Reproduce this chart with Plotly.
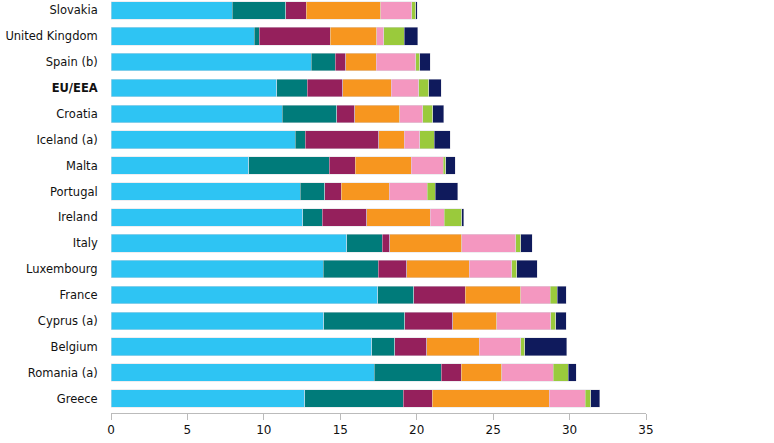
import plotly.graph_objects as go

countries = ["Greece", "Romania (a)", "Belgium", "Cyprus (a)", "France", "Luxembourg", "Italy",
             "Ireland", "Portugal", "Malta", "Iceland (a)", "Croatia", "<b>EU/EEA</b>",
             "Spain (b)", "United Kingdom", "Slovakia"]

s1 = [12.67, 17.23, 17.05, 13.91, 17.45, 13.87, 15.42, 12.54, 12.39, 9.01, 12.04, 11.21, 10.84, 13.10, 9.36, 7.94]
s2 = [6.45, 4.38, 1.51, 5.32, 2.35, 3.62, 2.33, 1.28, 1.59, 5.27, 0.67, 3.55, 2.00, 1.58, 0.34, 3.49]
s3 = [1.88, 1.29, 2.09, 3.12, 3.36, 1.87, 0.50, 2.91, 1.07, 1.70, 4.82, 1.18, 2.32, 0.69, 4.63, 1.33]
s4 = [7.67, 2.66, 3.45, 2.90, 3.66, 4.08, 4.71, 4.14, 3.16, 3.65, 1.64, 2.95, 3.18, 1.97, 3.07, 4.90]
s5 = [2.36, 3.38, 2.72, 3.53, 1.92, 2.77, 3.51, 0.94, 2.48, 2.09, 1.02, 1.50, 1.79, 2.59, 0.44, 2.01]
s6 = [0.35, 0.96, 0.26, 0.33, 0.44, 0.33, 0.33, 1.15, 0.51, 0.17, 0.96, 0.65, 0.65, 0.26, 1.35, 0.28]
s7 = [0.59, 0.54, 2.75, 0.66, 0.59, 1.33, 0.76, 0.11, 1.50, 0.64, 1.03, 0.72, 0.81, 0.68, 0.87, 0.09]

series = [s1, s2, s3, s4, s5, s6, s7]
colors = ["#2EC4F3", "#007B7A", "#95205C", "#F7961F", "#F497C0", "#9ACA3C", "#0F1A5C"]

fig = go.Figure()
for vals, col in zip(series, colors):
    fig.add_trace(go.Bar(
        y=countries, x=vals, orientation="h",
        marker=dict(color=col, line=dict(color="rgba(220,220,225,0.8)", width=0.6)),
        showlegend=False, hoverinfo="x+y"))

fig.update_layout(
    barmode="stack", bargap=0.32,
    width=774, height=443,
    margin=dict(l=111, r=128, t=0, b=30, autoexpand=False),
    plot_bgcolor="white", paper_bgcolor="white",
    font=dict(family="DejaVu Sans", size=12, color="#111111"),
    xaxis=dict(range=[0, 35], tickvals=[0, 5, 10, 15, 20, 25, 30, 35],
               showgrid=False, zeroline=False, showline=True, linecolor="#BBBBBB",
               linewidth=1, ticks="outside", ticklen=6, tickcolor="#BBBBBB",
               tickfont=dict(size=12), automargin=False),
    yaxis=dict(range=[-0.56, 15.40], showgrid=False, zeroline=False, showline=False,
               ticks="outside", ticklen=10, tickcolor="rgba(0,0,0,0)",
               tickfont=dict(size=11.5), automargin=False),
)

fig.write_html("out.html", config={"displayModeBar": False},
               post_script="document.body.style.margin='0';document.body.style.padding='0';")
